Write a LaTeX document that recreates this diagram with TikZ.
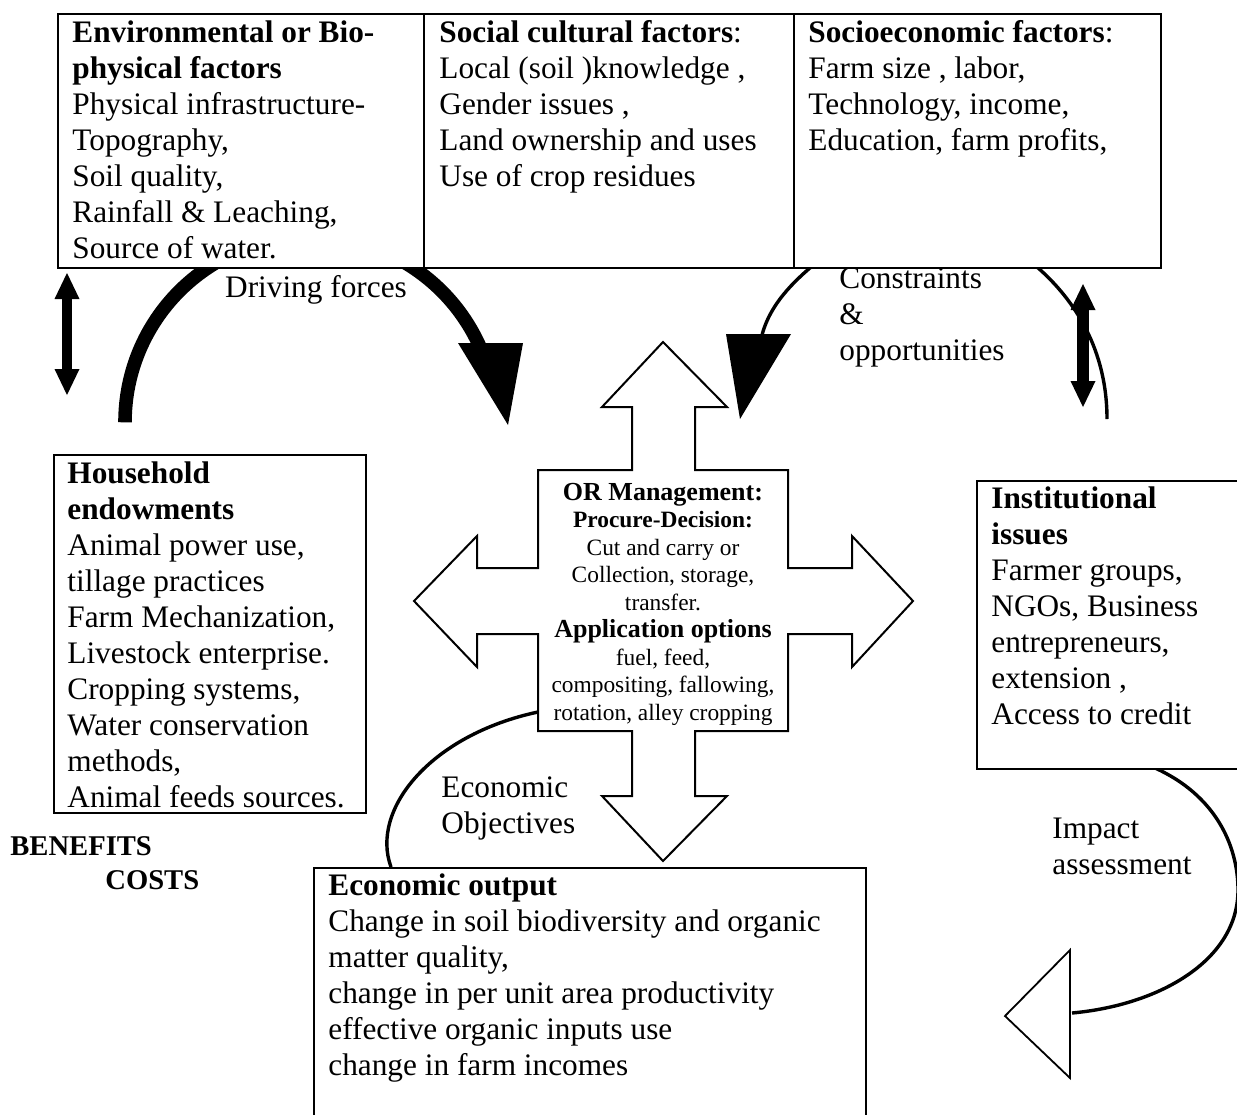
\documentclass[tikz,border=0pt]{standalone}
\usepackage{fontspec}
\setmainfont{Liberation Serif}
\usetikzlibrary{arrows.meta}

\begin{document}
\begin{tikzpicture}[x=0.5pt,y=0.5pt,
  frame/.style={draw, line width=0.9pt, fill=white, inner sep=0pt, anchor=north west},
  txt/.style={anchor=north west, inner sep=0pt, align=left, font=\fontsize{15.65}{18}\selectfont},
  lbl/.style={inner sep=0pt, align=left, font=\fontsize{15.65}{18}\selectfont},
  thickarc/.style={line width=6.8pt},
  thinarc/.style={line width=1.7pt},
  headfill/.style={fill=black, draw=none},
  dblarrow/.style={line width=#1,
     {Triangle[width=12.5pt,length=13pt,line width=0pt]}-{Triangle[width=12.5pt,length=13pt,line width=0pt]}},
  crossarrow/.style={draw, line width=1pt, fill=white, line join=miter}
]
\useasboundingbox (0,0) rectangle (1237,-1114);

% ---------- curved connectors (drawn first, boxes sit on top) ----------
% driving forces: circular arc passing under the factor boxes
\coordinate (dfstart) at (125,-422.3);
\draw[thickarc] (dfstart) arc[start angle=180, end angle=20, radius=92.75pt] coordinate (dfend);

\coordinate (costart) at (811,-267);
\coordinate (coend) at (760,-345);
\draw[thinarc] (costart) .. controls (790,-285) and (765,-310) .. (coend);

\coordinate (rastart) at (1037,-267);
\coordinate (raend) at (1107,-419);
\draw[thinarc] (rastart) .. controls (1075,-300) and (1107,-350) .. (raend);

\coordinate (eostart) at (538,-712);
\coordinate (eoend) at (391,-867);
\draw[thinarc] (eostart) .. controls (430,-735) and (370,-810) .. (eoend);

\coordinate (iastart) at (1155,-768);
\coordinate (iaend) at (1072,-1013);
\draw[thinarc] (iastart) .. controls (1215,-795) and (1238,-845) .. (1238,-890)
      .. controls (1238,-960) and (1160,-1005) .. (iaend);

% ---------- boxes ----------
\node[frame, minimum width=183pt, minimum height=127pt] (env) at (57,-13) {};
\node[frame, minimum width=185pt, minimum height=127pt] (soc) at (423,-13) {};
\node[frame, minimum width=183.5pt, minimum height=127pt] (sec) at (793,-13) {};
\node[frame, minimum width=156pt, minimum height=179pt] (hh) at (53,-454) {};
\node[frame, minimum width=134.5pt, minimum height=144pt] (inst) at (976,-480) {};
\node[frame, minimum width=276pt, minimum height=131.5pt] (eco) at (313,-867) {};

% ---------- arrow heads ----------
\fill[headfill] (458,-343) -- (523,-343) -- (508,-425) -- cycle;
\fill[headfill] (726,-334) -- (791,-334) -- (740,-419) -- cycle;
\draw[line width=0.9pt, fill=white, line join=miter] (1070,-950) -- (1070,-1078) -- (1005,-1016) -- cycle;

% ---------- vertical double arrows ----------
\coordinate (lda1) at (67,-273);
\coordinate (lda2) at (67,-395);
\draw[dblarrow=5.3pt] (lda1) -- (lda2);
\coordinate (rda1) at (1083,-284);
\coordinate (rda2) at (1083,-407);
\draw[dblarrow=6pt] (rda1) -- (rda2);

% ---------- four-way management arrow ----------
\draw[crossarrow] (663,-342) -- (727,-407) -- (695,-407) -- (695,-470) -- (788,-470)
  -- (788,-568) -- (852,-568) -- (852,-536) -- (913,-601) -- (852,-667) -- (852,-634)
  -- (788,-634) -- (788,-731) -- (695,-731) -- (695,-796) -- (727,-796) -- (663,-861)
  -- (602,-796) -- (632,-796) -- (632,-731) -- (538,-731) -- (538,-634) -- (477,-634)
  -- (477,-667) -- (414,-601) -- (477,-536) -- (477,-568) -- (538,-568) -- (538,-470)
  -- (632,-470) -- (632,-407) -- (602,-407) -- cycle;

\node[align=center, inner sep=0pt, font=\fontsize{11.7}{13.75}\selectfont] (mgmt) at (663,-604) {%
  {\fontsize{13}{13.75}\selectfont\bfseries OR Management:}\\
  {\bfseries Procure-Decision:}\\
  Cut and carry or\\
  Collection, storage,\\
  transfer.\\
  {\fontsize{13}{13.75}\selectfont\bfseries Application options}\\
  fuel, feed,\\
  compositing, fallowing,\\
  rotation, alley cropping};

% ---------- box texts ----------
\node[txt] (envtxt) at (72,-17) {%
  \strut\textbf{Environmental or Bio-}\\
  \strut\textbf{physical factors}\\
  \strut Physical infrastructure-\\
  \strut Topography,\\
  \strut Soil quality,\\
  \strut Rainfall \& Leaching,\\
  \strut Source of water.};

\node[txt] (soctxt) at (439,-17) {%
  \strut\textbf{Social cultural factors}:\\
  \strut Local (soil )knowledge ,\\
  \strut Gender issues ,\\
  \strut Land ownership and uses\\
  \strut Use of crop residues};

\node[txt] (sectxt) at (808,-17) {%
  \strut\textbf{Socioeconomic factors}:\\
  \strut Farm size , labor,\\
  \strut Technology, income,\\
  \strut Education, farm profits,};

\node[txt] (hhtxt) at (67,-458) {%
  \strut\textbf{Household}\\
  \strut\textbf{endowments}\\
  \strut Animal power use,\\
  \strut tillage practices\\
  \strut Farm Mechanization,\\
  \strut Livestock enterprise.\\
  \strut Cropping systems,\\
  \strut Water conservation\\
  \strut methods,\\
  \strut Animal feeds sources.};

\node[txt] (insttxt) at (991,-483) {%
  \strut\textbf{Institutional}\\
  \strut\textbf{issues}\\
  \strut Farmer groups,\\
  \strut NGOs, Business\\
  \strut entrepreneurs,\\
  \strut extension ,\\
  \strut Access to credit};

\node[txt] (ecotxt) at (328,-870) {%
  \strut\textbf{Economic output}\\
  \strut Change in soil biodiversity and organic\\
  \strut matter quality,\\
  \strut change in per unit area productivity\\
  \strut effective organic inputs use\\
  \strut change in farm incomes};

% ---------- free labels ----------
\node[lbl] (drive) at (316,-290) {Driving forces};
\node[txt] (constr) at (839,-263) {%
  \strut Constraints\\
  \strut \&\\
  \strut opportunities};
\node[txt] (econobj) at (441,-772) {%
  \strut Economic\\
  \strut Objectives};
\node[txt] (impact) at (1052,-813) {%
  \strut Impact\\
  \strut assessment};
\node[lbl, anchor=west, font=\fontsize{14.3}{16}\selectfont\bfseries] (benefits) at (10,-846) {BENEFITS};
\node[lbl, anchor=west, font=\fontsize{14.3}{16}\selectfont\bfseries] (costs) at (105,-880) {COSTS};
\end{tikzpicture}
\end{document}
